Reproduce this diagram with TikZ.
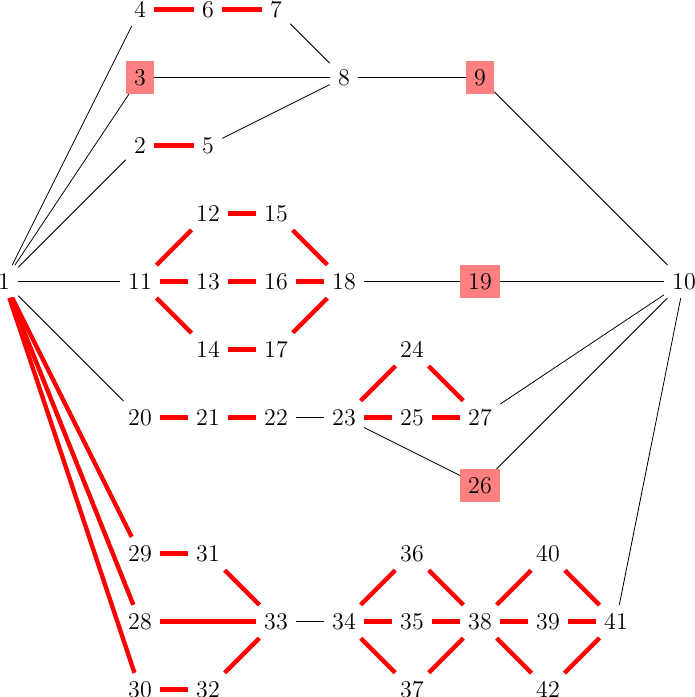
\documentclass[tikz,border=0pt]{standalone}
\begin{document}
\begin{tikzpicture}[x=34pt,y=-34pt,
  every node/.style={inner sep=4pt, font=\fontsize{12}{14}\selectfont},
  hl/.style={fill=red!50},
  thinedge/.style={draw=black, line width=0.4pt},
  rededge/.style={draw=red, line width=2.2pt}]
\useasboundingbox (-2pt,4.75pt) rectangle (345.5pt,-343.75pt);
% nodes
\node (n1) at (0,4) {1};
\node (n4) at (2,0) {4};
\node (n6) at (3,0) {6};
\node (n7) at (4,0) {7};
\node[hl] (n3) at (2,1) {3};
\node (n8) at (5,1) {8};
\node[hl] (n9) at (7,1) {9};
\node (n2) at (2,2) {2};
\node (n5) at (3,2) {5};
\node (n12) at (3,3) {12};
\node (n15) at (4,3) {15};
\node (n11) at (2,4) {11};
\node (n13) at (3,4) {13};
\node (n16) at (4,4) {16};
\node (n18) at (5,4) {18};
\node[hl] (n19) at (7,4) {19};
\node (n10) at (10,4) {10};
\node (n14) at (3,5) {14};
\node (n17) at (4,5) {17};
\node (n24) at (6,5) {24};
\node (n20) at (2,6) {20};
\node (n21) at (3,6) {21};
\node (n22) at (4,6) {22};
\node (n23) at (5,6) {23};
\node (n25) at (6,6) {25};
\node (n27) at (7,6) {27};
\node[hl] (n26) at (7,7) {26};
\node (n29) at (2,8) {29};
\node (n31) at (3,8) {31};
\node (n36) at (6,8) {36};
\node (n40) at (8,8) {40};
\node (n28) at (2,9) {28};
\node (n33) at (4,9) {33};
\node (n34) at (5,9) {34};
\node (n35) at (6,9) {35};
\node (n38) at (7,9) {38};
\node (n39) at (8,9) {39};
\node (n41) at (9,9) {41};
\node (n30) at (2,10) {30};
\node (n32) at (3,10) {32};
\node (n37) at (6,10) {37};
\node (n42) at (8,10) {42};
% thin edges
\foreach \a/\b in {n1/n4, n1/n3, n1/n2, n1/n11, n1/n20, n7/n8, n3/n8, n5/n8, n8/n9,
  n9/n10, n18/n19, n19/n10, n22/n23, n23/n26, n27/n10, n26/n10, n33/n34, n41/n10}
  \draw[thinedge] (\a) -- (\b);
% red edges
\foreach \a/\b in {n4/n6, n6/n7, n2/n5,
  n11/n12, n11/n13, n11/n14, n12/n15, n13/n16, n14/n17, n15/n18, n16/n18, n17/n18,
  n20/n21, n21/n22, n23/n24, n23/n25, n24/n27, n25/n27,
  n1/n29, n1/n28, n1/n30, n29/n31, n31/n33, n28/n33, n30/n32, n32/n33,
  n34/n36, n34/n35, n34/n37, n36/n38, n35/n38, n37/n38,
  n38/n40, n38/n39, n38/n42, n40/n41, n39/n41, n42/n41}
  \draw[rededge] (\a) -- (\b);
\end{tikzpicture}
\end{document}
